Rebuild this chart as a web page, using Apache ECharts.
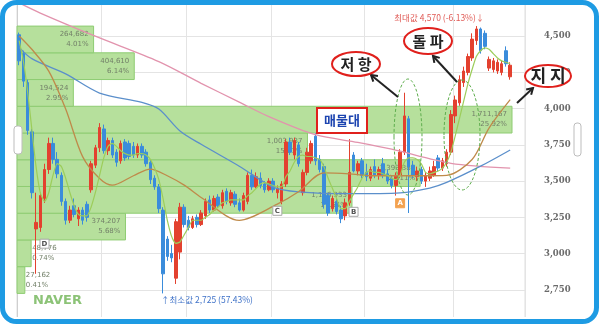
<!DOCTYPE html>
<html><head><meta charset="utf-8">
<script src="https://cdn.jsdelivr.net/npm/echarts@6/dist/echarts.min.js"></script>
<style>html,body{margin:0;padding:0;background:#fff}#c{width:600px;height:326px}</style>
</head><body><div id="c"></div>
<script>
// ---- data ----
const categories = Array.from({length: 120}, (_, i) => String(i + 1));
const monthStarts = [20, 40, 60, 82, 103];
const opens  = [4510,4380,4180,3840,3170,3180,3380,3580,3760,3650,3540,3360,3230,3330,3240,3300,3340,3440,3610,3730,
                3860,3710,3780,3700,3640,3770,3760,3740,3680,3740,3700,3630,3520,3460,3300,3100,3000,2830,3010,3320,
                3230,3180,3250,3200,3260,3370,3300,3390,3330,3430,3350,3410,3350,3300,3360,3540,3460,3520,3480,3440,
                3500,3420,3360,3480,3770,3680,3750,3420,3560,3640,3810,3650,3600,3400,3310,3360,3300,3260,3350,3680,
                3570,3640,3560,3520,3600,3540,3620,3550,3520,3470,3540,3700,3930,3610,3530,3580,3500,3520,3540,3660,
                3590,3620,3700,3950,4040,4180,4250,4350,4470,4550,4520,4280,4270,4260,4250,4400,4220];
const highs  = [4525,4400,4200,3860,3420,3420,3620,3800,3800,3700,3560,3380,3330,3380,3320,3320,3360,3640,3750,3900,
                3890,3800,3800,3720,3780,3790,3780,3770,3760,3760,3720,3650,3540,3480,3320,3120,3060,3240,3350,3340,
                3260,3260,3270,3300,3380,3400,3400,3410,3440,3450,3440,3430,3380,3420,3560,3580,3560,3560,3500,3520,
                3520,3470,3500,3790,3800,3800,3770,3580,3730,3780,3830,3680,3620,3420,3400,3380,3330,3380,3790,3700,
                3640,3660,3620,3600,3650,3600,3660,3580,3540,3560,3720,4110,3950,3640,3600,3600,3560,3600,3640,3680,
                3660,3720,3990,4090,4230,4290,4380,4520,4570,4560,4540,4360,4350,4340,4330,4430,4320];
const lows   = [4300,4150,3820,3380,2860,3150,3350,3550,3620,3520,3330,3200,3210,3250,3190,3200,3220,3420,3590,3700,
                3690,3680,3660,3600,3620,3640,3650,3660,3660,3660,3600,3480,3440,3280,2725,2950,2940,2790,2960,3180,
                3160,3170,3180,3190,3240,3280,3290,3320,3310,3340,3330,3320,3290,3290,3340,3440,3450,3450,3420,3430,
                3420,3380,3340,3460,3680,3650,3600,3400,3540,3620,3610,3560,3310,3260,3290,3270,3210,3230,3330,3560,
                3540,3520,3500,3500,3520,3510,3520,3480,3450,3400,3520,3680,3280,3520,3500,3480,3460,3500,3530,3570,
                3570,3600,3680,3900,4020,4150,4230,4330,4440,4380,4410,4260,4250,4240,4230,4290,4200];
const closes = [4330,4190,3850,3420,3215,3400,3580,3760,3650,3550,3360,3230,3300,3270,3300,3230,3250,3620,3730,3870,
                3710,3780,3680,3630,3760,3660,3670,3680,3740,3680,3620,3510,3460,3310,2860,2980,2970,3220,3320,3200,
                3180,3240,3200,3280,3360,3300,3380,3330,3420,3360,3420,3340,3300,3400,3540,3460,3530,3470,3440,3500,
                3440,3450,3480,3770,3700,3780,3620,3560,3700,3760,3640,3580,3340,3280,3380,3290,3240,3350,3560,3570,
                3620,3540,3530,3580,3540,3580,3540,3500,3470,3540,3700,3950,3600,3540,3570,3500,3540,3570,3600,3590,
                3640,3700,3960,4060,4200,4260,4360,4480,4550,4400,4430,4340,4330,4320,4310,4310,4300];
const ma5 = [4470,4330,4120,3860,3600,3420,3360,3420,3540,3620,3600,3520,3420,3330,3270,3260,3260,3320,3420,3540,
             3660,3740,3760,3740,3710,3690,3680,3680,3690,3690,3680,3650,3590,3510,3380,3230,3120,3070,3080,3130,
             3180,3230,3230,3230,3250,3270,3300,3320,3350,3360,3370,3370,3370,3370,3400,3420,3450,3480,3490,3480,
             3470,3460,3460,3530,3570,3630,3670,3680,3670,3670,3660,3650,3600,3520,3450,3380,3310,3310,3360,3410,
             3460,3520,3560,3570,3560,3560,3550,3540,3520,3510,3540,3630,3660,3660,3650,3620,3560,3550,3560,3570,
             3590,3630,3700,3810,3930,4050,4170,4270,4360,4400,4420,4410,4380,4350,4330,4320,4310];
const ma20  = [[0,4502],[3,4410],[7,4259],[11,3997],[15,3669],[19,3518],[22,3472],[27,3537],[31,3583],[35,3537],
               [39,3472],[43,3387],[52,3229],[61,3341],[66,3426],[72,3557],[78,3550],[83,3537],[95,3537],[101,3540],
               [107,3649],[111,3866],[116,4062]];
const ma60  = [[0,4423],[3,4345],[11,4240],[19,4108],[29,4043],[33,3997],[38,3846],[43,3754],[52,3603],[60,3459],
               [66,3426],[78,3413],[90,3419],[97,3452],[101,3491],[109,3603],[116,3715]];
const ma120 = [[0,4730],[5,4660],[18,4500],[33,4325],[43,4175],[52,4045],[59,3945],[70,3820],[80,3767],[88,3720],
               [102,3623],[116,3590]];
// volume profile bands (price bins, share %, volume)
const binEdges  = [2725,2909.5,3094,3278.5,3463,3647.5,3832,4016.5,4201,4385.5,4570];
const bandPct   = [0.41,0.74,5.68,17.54,21.11,15.21,25.92,2.95,6.14,4.01];
const bandVol   = ['27,162','48,776','374,207','1,156,933','1,393,381','1,003,937','1,711,167','194,524','404,610','264,682'];
const yTicks = {min: 2500, max: 4750, step: 250};
const markers = [{i: 6, v: 3068, t: 'D'}, {i: 61, v: 3295, t: 'C'}, {i: 79, v: 3288, t: 'B'}, {i: 90, v: 3347, t: 'A'}];
const maxPt = {i: 108, v: 4570, text: '최대값 4,570 (-6.13%)↓'};
const minPt = {i: 34, v: 2725, text: '↑최소값 2,725 (57.43%)'};

// ---- chart ----
const chart = echarts.init(document.getElementById('c'), null, {renderer: 'canvas'});
const UP = '#e3412f', DOWN = '#3a8cdb';
const candle = opens.map((o, i) => [o, closes[i], lows[i], highs[i]]);
const bandData = bandPct.map((p, k) => [p, binEdges[k], binEdges[k + 1], k]);

function fmt(v) { return String(v).replace(/\B(?=(\d{3})+(?!\d))/g, ','); }
function arrow(x1, y1, x2, y2) {
  const a = Math.atan2(y2 - y1, x2 - x1), L = 7, W = 0.55;
  const p1 = [x2 - L * Math.cos(a - W), y2 - L * Math.sin(a - W)];
  const p2 = [x2 - L * Math.cos(a + W), y2 - L * Math.sin(a + W)];
  return [
    {type: 'line', z: 100, shape: {x1, y1, x2, y2}, style: {stroke: '#222', lineWidth: 2}},
    {type: 'polyline', z: 100, shape: {points: [p1, [x2, y2], p2]}, style: {stroke: '#222', lineWidth: 2, fill: null}}
  ];
}
function txt(x, y, text, font, fill, align) {
  return {type: 'text', z: 102, style: {text, x, y, font, fill, align: align || 'center', textAlign: align || 'center',
          verticalAlign: 'middle', textVerticalAlign: 'middle'}};
}
function ell(cx, cy, rx, ry, stroke, fill, dash, lw) {
  return {type: 'ellipse', z: 100, shape: {cx, cy, rx, ry},
          style: {stroke, fill: fill || null, lineWidth: lw || 2, lineDash: dash || null}};
}
const KR = '"Noto Sans CJK KR"';

const option = {
  animation: false,
  grid: {left: 17, right: 75, top: -5, height: 343, show: true, borderColor: '#dedede', borderWidth: 1, backgroundColor: '#fff'},
  xAxis: [
    {type: 'category', data: categories, boundaryGap: true, axisLine: {show: false}, axisTick: {show: false},
     axisLabel: {show: false},
     splitLine: {show: true, interval: (idx) => monthStarts.indexOf(idx) >= 0, lineStyle: {color: '#e4e4e4', width: 1}}},
    {type: 'value', min: 0, max: 26.6, show: false}
  ],
  yAxis: [{
    type: 'value', position: 'right', min: yTicks.min, max: yTicks.max, interval: yTicks.step,
    axisLine: {show: true, lineStyle: {color: '#cfcfcf'}},
    axisTick: {show: true, length: 7, inside: false, lineStyle: {color: '#e3e3e3'}},
    axisLabel: {margin: 19, color: '#6a6a6a', fontSize: 8.5, fontWeight: 'bold', fontFamily: 'DejaVu Serif',
                padding: [4, 0, 0, 0],
                formatter: v => (v === 2500 || v === 4750) ? '' : fmt(v)},
    splitLine: {show: true, lineStyle: {color: '#e4e4e4'}}
  }],
  series: [
    {type: 'custom', xAxisIndex: 1, yAxisIndex: 0, z: 1, data: bandData, encode: {x: 0, y: [1, 2]},
     renderItem: (params, api) => {
       const p = api.value(0), lo = api.value(1), hi = api.value(2), k = api.value(3);
       const a = api.coord([0, hi]), b = api.coord([p, lo]);
       const w = b[0] - a[0], h = b[1] - a[1];
       const small = w < 40;
       const label = bandVol[k] + '\n' + bandPct[k].toFixed(2) + '%';
       return {type: 'group', children: [
         {type: 'rect', shape: {x: a[0], y: a[1], width: w, height: h},
          style: {fill: '#b6e09c', stroke: '#8ecc72', lineWidth: 1}},
         {type: 'text', style: {text: label, x: small ? b[0] + 1 : b[0] - 5, y: a[1] + h / 2,
            align: small ? 'left' : 'right', textAlign: small ? 'left' : 'right',
            verticalAlign: 'middle', textVerticalAlign: 'middle', lineHeight: 10,
            fill: '#738069', font: '7px "DejaVu Sans"'}}
       ]};
     }},
    {type: 'candlestick', z: 3, data: candle, barWidth: 3,
     itemStyle: {color: UP, color0: DOWN, borderColor: UP, borderColor0: DOWN, borderWidth: 1},
     markPoint: {
       z: 10,
       data: markers.map(m => ({coord: [categories[m.i], m.v], symbol: 'rect', symbolSize: [9, 9],
         itemStyle: {color: m.t === 'A' ? '#f3a250' : '#fff', borderColor: m.t === 'A' ? '#f3a250' : '#a8a8a8', borderWidth: 1},
         label: {show: true, position: 'inside', formatter: m.t, color: m.t === 'A' ? '#fff' : '#555',
                 fontSize: 7, fontWeight: 'bold', fontFamily: 'DejaVu Sans'}}))
         .concat([
           {coord: [categories[maxPt.i], maxPt.v], symbol: 'circle', symbolSize: 1, itemStyle: {color: 'rgba(0,0,0,0)'},
            label: {show: true, position: 'inside', align: 'right', verticalAlign: 'middle', offset: [8, -8],
                    formatter: maxPt.text, color: '#e05a55', fontSize: 8.5, fontFamily: KR}},
           {coord: [categories[minPt.i], minPt.v], symbol: 'circle', symbolSize: 1, itemStyle: {color: 'rgba(0,0,0,0)'},
            label: {show: true, position: 'inside', align: 'left', verticalAlign: 'middle', offset: [-2, 6],
                    formatter: minPt.text, color: '#3f72c8', fontSize: 8.5, fontFamily: KR}}
         ])
     }},
    {type: 'line', z: 4, data: ma120, showSymbol: false, smooth: 0.3, lineStyle: {color: '#e293ad', width: 1.3}},
    {type: 'line', z: 4, data: ma60, showSymbol: false, smooth: 0.3, lineStyle: {color: '#5b8fcb', width: 1.3}},
    {type: 'line', z: 4, data: ma20, showSymbol: false, smooth: 0.3, lineStyle: {color: '#bf8a4a', width: 1.3}},
    {type: 'line', z: 4, data: ma5, showSymbol: false, smooth: 0.2, lineStyle: {color: '#9ccd5a', width: 1.2}}
  ],
  graphic: {elements: [
    // NAVER logo
    txt(33, 301, 'NAVER', 'bold 13px "DejaVu Sans"', 'rgba(120,185,95,0.85)', 'left'),
    // green dashed ellipses
    ell(408, 137, 14, 58, '#5fae4e', null, [3, 2], 1),
    ell(462, 135, 18, 55, '#5fae4e', null, [3, 2], 1),
    // arrows
    ...arrow(398, 97, 371, 75),
    ...arrow(457, 82, 433, 56),
    ...arrow(517, 103, 533, 88),
    // labels in red ellipses
    ell(356, 64, 24, 12, '#e0201c', '#fff'),
    txt(356, 64, '저 항', 'bold 15px ' + KR, '#222'),
    ell(428, 41, 24, 13, '#e0201c', '#fff'),
    txt(428, 41, '돌 파', 'bold 15px ' + KR, '#222'),
    ell(548, 76, 23, 11, '#e0201c', '#fff'),
    txt(548, 76, '지 지', 'bold 17px ' + KR, '#222'),
    // 매물대 box
    {type: 'rect', z: 100, shape: {x: 317, y: 108, width: 50, height: 25}, style: {fill: '#fff', stroke: '#e0201c', lineWidth: 2}},
    txt(342, 120.5, '매물대', 'bold 13px ' + KR, '#1c44b0'),
    // side tabs
    {type: 'rect', z: 100, shape: {x: 14, y: 126, width: 8, height: 28, r: 3}, style: {fill: '#fff', stroke: '#bdbdbd', lineWidth: 1}},
    {type: 'rect', z: 100, shape: {x: 574, y: 123, width: 7, height: 33, r: 3}, style: {fill: '#fff', stroke: '#bdbdbd', lineWidth: 1}},
    // bottom white strip and blue frame
    {type: 'rect', z: 99, shape: {x: 0, y: 317, width: 600, height: 9}, style: {fill: '#fff'}},
    {type: 'rect', z: 101, shape: {x: 2.5, y: 2.5, width: 594, height: 319, r: 14}, style: {fill: null, stroke: '#1e9be3', lineWidth: 5}}
  ]}
};
chart.setOption(option);
</script></body></html>
